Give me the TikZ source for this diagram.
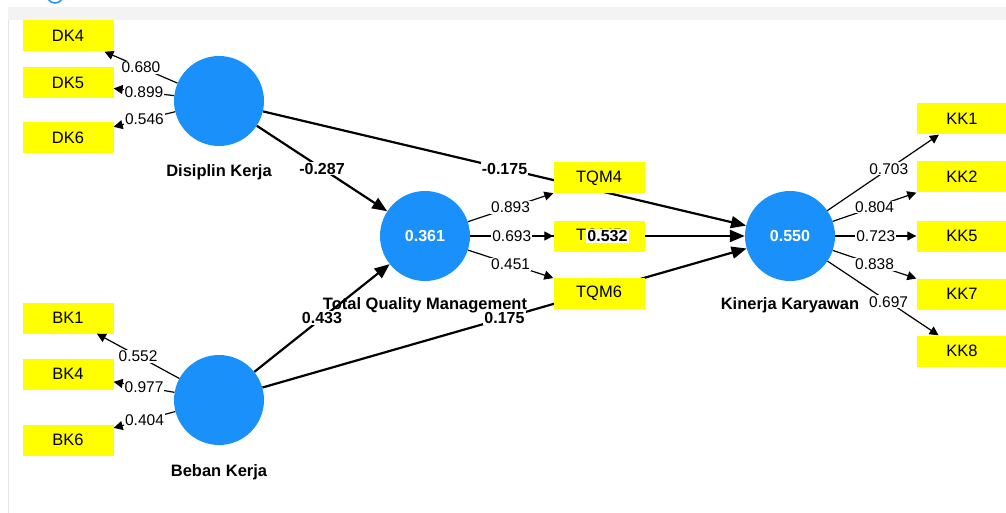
\documentclass[tikz,border=0pt]{standalone}
\usepackage{fontspec}
\setmainfont{Liberation Sans}
\usepackage{tikz}
\usetikzlibrary{arrows.meta}
\usetikzlibrary{backgrounds}
\definecolor{plsblue}{HTML}{1A90FA}
\definecolor{plsyellow}{HTML}{FFFF00}
\definecolor{bandgrey}{HTML}{F3F3F3}
\tikzset{my_model/.style={x=1pt,y=-1pt}}
\tikzset{my_latent/.style={circle, fill=plsblue, minimum size=90pt, inner sep=0pt, text=white, font=\fontsize{16}{19}\selectfont\bfseries}}
\tikzset{my_indicator/.style={rectangle, fill=plsyellow, minimum width=91pt, minimum height=31pt, inner sep=0pt, font=\fontsize{16.5}{19}\selectfont}}
\tikzset{my_name/.style={font=\fontsize{16.5}{19}\selectfont\bfseries}}
\tikzset{my_loading/.style={-{Triangle[length=9pt,width=9pt]}, line width=1.2pt}}
\tikzset{my_path/.style={-{Triangle[length=15pt,width=12pt]}, line width=2.2pt}}
\tikzset{my_loadlabel/.style={fill=white, inner sep=1pt, font=\fontsize{15.5}{18}\selectfont}}
\tikzset{my_pathlabel/.style={fill=white, inner sep=1pt, font=\fontsize{16}{19}\selectfont\bfseries}}

\begin{document}
\begin{tikzpicture}[my_model]
    \useasboundingbox (0,0) rectangle (1006,513);
    %\draw[help lines, step=50] (0,0) grid (1006,513);
    \fill[bandgrey] (8,7) rectangle (1006,20);
    \draw[gray!20, line width=1pt] (8,20) -- (8,513);
    \draw[plsblue, line width=1.5pt] (55,-5) circle (8);

    % latent variables
    \node[my_latent] (dk) at (219,101) {};
    \node[my_latent] (bk) at (219,400) {};
    \node[my_latent] (tqm) at (425,236) {0.361};
    \node[my_latent] (kk) at (790,236) {0.550};
    \node[my_name] (dkname) at (219,172) {Disiplin Kerja};
    \node[my_name] (bkname) at (219,472) {Beban Kerja};
    \node[my_name] (tqmname) at (425,305) {Total Quality Management};
    \node[my_name] (kkname) at (790,305) {Kinerja Karyawan};

    % indicators
    \node[my_indicator] (dk4) at (68,36) {DK4};
    \node[my_indicator] (dk5) at (68,83) {DK5};
    \node[my_indicator] (dk6) at (68,138) {DK6};
    \node[my_indicator] (bk1) at (68,318) {BK1};
    \node[my_indicator] (bk4) at (68,374) {BK4};
    \node[my_indicator] (bk6) at (68,440) {BK6};
    \node[my_indicator] (tqm4) at (599,178) {TQM4};
    \node[my_indicator] (tqm5) at (599,236) {TQM5};
    \node[my_indicator] (tqm6) at (599,293) {TQM6};
    \node[my_indicator] (kk1) at (962,119) {KK1};
    \node[my_indicator] (kk2) at (962,177) {KK2};
    \node[my_indicator] (kk5) at (962,236) {KK5};
    \node[my_indicator] (kk7) at (962,294) {KK7};
    \node[my_indicator] (kk8) at (962,351) {KK8};

    % outer loadings
    \path[my_loading]
        (dk) edge node [my_loadlabel] {0.680} (dk4)
        (dk) edge node [my_loadlabel] {0.899} (dk5)
        (dk) edge node [my_loadlabel] {0.546} (dk6)
        (bk) edge node [my_loadlabel] {0.552} (bk1)
        (bk) edge node [my_loadlabel] {0.977} (bk4)
        (bk) edge node [my_loadlabel] {0.404} (bk6)
        (tqm) edge node [my_loadlabel] {0.893} (tqm4)
        (tqm) edge node [my_loadlabel] {0.693} (tqm5)
        (tqm) edge node [my_loadlabel] {0.451} (tqm6)
        (kk) edge node [my_loadlabel, pos=0.55] {0.703} (kk1)
        (kk) edge node [my_loadlabel] {0.804} (kk2)
        (kk) edge node [my_loadlabel] {0.723} (kk5)
        (kk) edge node [my_loadlabel] {0.838} (kk7)
        (kk) edge node [my_loadlabel, pos=0.55] {0.697} (kk8)
    ;

    % inner model, drawn under the indicator boxes
    \begin{scope}[on background layer]
        \path[my_path]
            (dk) edge (tqm)
            (bk) edge (tqm)
            (dk) edge (kk)
            (bk) edge (kk)
            (tqm) edge (kk)
        ;
    \end{scope}
    \path (dk) -- (tqm) node [midway, my_pathlabel] {-0.287};
    \path (bk) -- (tqm) node [midway, my_pathlabel] {0.433};
    \path (dk) -- (kk) node [midway, my_pathlabel] {-0.175};
    \path (bk) -- (kk) node [midway, my_pathlabel] {0.175};
    \path (tqm) -- (kk) node [midway, my_pathlabel] {0.532};
\end{tikzpicture}
\end{document}
